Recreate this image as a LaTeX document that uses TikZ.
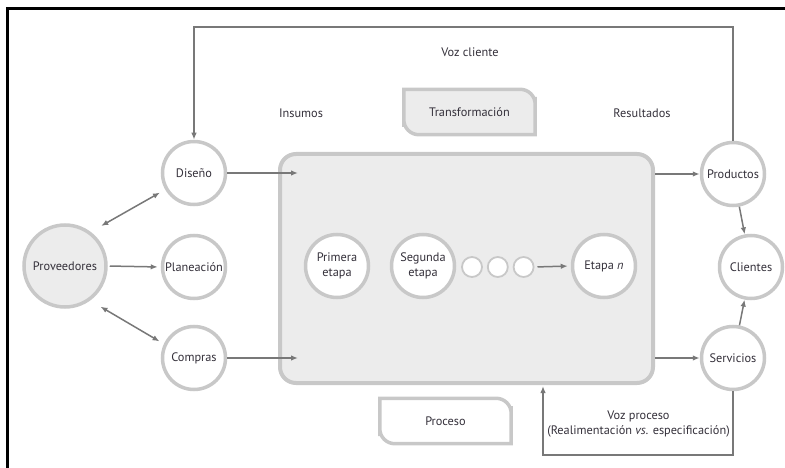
\documentclass[tikz,border=0pt]{standalone}
\usepackage{fontspec}
\setmainfont{PT Sans}
\usetikzlibrary{positioning, arrows.meta, calc}

\definecolor{ringgray}{HTML}{C8C8C8}
\definecolor{boxfill}{HTML}{ECECEC}
\definecolor{arrowgray}{HTML}{787878}
\definecolor{textgray}{HTML}{34303A}

\begin{document}
\begin{tikzpicture}[x=1pt, y=-1pt,
    font=\fontsize{12.3}{14.5}\selectfont, text=textgray,
    stage/.style={circle, draw=ringgray, line width=3.5pt, fill=white,
      minimum size=63pt, inner sep=0pt, align=center},
    dot/.style={circle, draw=ringgray, line width=1.8pt, fill=white,
      minimum size=20pt, inner sep=0pt},
    tag/.style={minimum width=131pt, minimum height=45pt, inner sep=0pt},
    tagline/.style={draw=ringgray, line width=3.5pt},
    flow/.style={draw=arrowgray, line width=1.5pt, -{Latex[length=7pt,width=5.5pt]}},
    both/.style={flow, {Latex[length=7pt,width=5.5pt]}-{Latex[length=7pt,width=5.5pt]}}]
  \useasboundingbox (0,0) rectangle (785,468);

  % frame
  \draw[line width=3pt] (7,468) -- (7,9) -- (785,9);

  % process box
  \node[draw=ringgray, line width=4pt, fill=boxfill, rounded corners=16pt,
    minimum width=373pt, minimum height=229pt, inner sep=0pt] (proc) at (466.5,268.5) {};

  % tags
  \node[tag] (trans) at (469.5,112) {};
  \draw[tagline, fill=boxfill] (trans.north)
    [rounded corners=15pt] -- (trans.north east) -- (trans.east)
    [sharp corners] -- (trans.south east) -- (trans.south)
    [rounded corners=15pt] -- (trans.south west) -- (trans.west)
    [sharp corners] -- (trans.north west) -- cycle;
  \node (translbl) at (trans) {Transformación};

  \node[tag] (proce) at (445.5,421) {Proceso};
  \draw[tagline] (proce.north)
    [rounded corners=15pt] -- (proce.north east) -- (proce.east)
    [sharp corners] -- (proce.south east) -- (proce.south)
    [rounded corners=15pt] -- (proce.south west) -- (proce.west)
    [sharp corners] -- (proce.north west) -- cycle;

  % labels
  \node (vozc) at (470,52) {Voz cliente};
  \node (ins) at (301,113) {Insumos};
  \node (res) at (642,113) {Resultados};
  \node[align=center, inner sep=0pt] (vozp) at (638.5,424) {Voz proceso\\(Realimentación \textit{vs.} especificación)};

  % input side
  \node[stage, fill=boxfill, minimum size=82pt] (prov) at (65,266) {Proveedores};
  \node[stage] (dis) at (194,173) {Diseño};
  \node[stage] (plan) at (194,267) {Planeación};
  \node[stage] (comp) at (194,358) {Compras};

  % stages
  \node[stage] (first) at (337,266) {Primera\\etapa};
  \node[stage] (second) at (423,266) {Segunda\\etapa};
  \node[dot] (d1) at (472,267) {};
  \node[dot, right=4pt of d1] (d2) {};
  \node[dot, right=4pt of d2] (d3) {};
  \node[stage] (last) at (604,266) {Etapa \textit{n}};

  % output side
  \node[stage] (prod) at (733,174) {Productos};
  \node[stage] (cli) at (751,267) {Clientes};
  \node[stage] (serv) at (733,358) {Servicios};

  \coordinate (in1) at (298,173);
  \coordinate (in2) at (298,358);
  \coordinate (top) at (463,27);
  \coordinate (bot) at (640,455);
  \coordinate (fb) at (543,386);

  % arrows
  \draw[both, shorten <=12pt, shorten >=6pt] (prov.53) -- (dis.210);
  \draw[flow, shorten <=2pt, shorten >=3pt] (prov.east) -- (plan.west);
  \draw[both, shorten <=12pt, shorten >=5pt] (prov.306) -- (comp.155);
  \draw[flow] (dis.east) -- (in1);
  \draw[flow] (comp.east) -- (in2);
  \draw[flow, shorten <=3pt, shorten >=3pt] (d3.east) -- (last.west);
  \draw[flow] (proc.east |- prod) -- (prod.west);
  \draw[flow] (proc.east |- serv) -- (serv.west);
  \draw[flow] (prod) -- (cli);
  \draw[flow] (serv) -- (cli);
  \draw[flow] (prod.north) |- (top) -| (dis.north);
  \draw[flow] (serv.south) |- (bot) -| (fb);
\end{tikzpicture}
\end{document}
